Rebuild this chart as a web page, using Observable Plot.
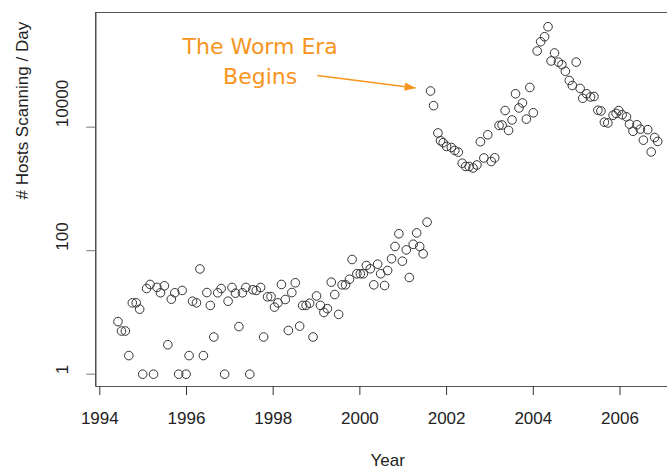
<!DOCTYPE html>
<html>
<head>
<meta charset="utf-8">
<script src="https://cdn.jsdelivr.net/npm/d3@7"></script>
<script src="https://cdn.jsdelivr.net/npm/@observablehq/plot@0.6"></script>
<style>
  html, body { margin: 0; padding: 0; background: #fff; }
  #chart svg { display: block; }
</style>
</head>
<body>
<div id="chart"></div>
<script>
// Monthly observations (decimal year) and hosts scanning per day
const years = [1994.42,1994.50,1994.59,1994.67,1994.75,1994.84,1994.92,1994.99,1995.08,1995.16,
 1995.24,1995.32,1995.40,1995.49,1995.57,1995.65,1995.73,1995.82,1995.90,1995.99,
 1996.06,1996.14,1996.23,1996.31,1996.39,1996.47,1996.55,1996.63,1996.72,1996.80,
 1996.88,1996.96,1997.05,1997.13,1997.21,1997.29,1997.37,1997.46,1997.53,1997.61,
 1997.71,1997.78,1997.87,1997.95,1998.03,1998.11,1998.19,1998.28,1998.35,1998.43,
 1998.51,1998.61,1998.68,1998.76,1998.84,1998.92,1999.00,1999.09,1999.17,1999.25,
 1999.34,1999.42,1999.51,1999.59,1999.67,1999.76,1999.82,1999.93,2000.01,2000.08,
 2000.15,2000.24,2000.32,2000.41,2000.48,2000.57,2000.64,2000.73,2000.81,2000.90,
 2000.98,2001.07,2001.14,2001.23,2001.31,2001.38,2001.46,2001.55,2001.63,2001.70,
 2001.80,2001.86,2001.92,2002.00,2002.11,2002.19,2002.27,2002.36,2002.44,2002.52,
 2002.61,2002.70,2002.78,2002.86,2002.95,2003.03,2003.11,2003.21,2003.28,2003.35,
 2003.43,2003.51,2003.59,2003.67,2003.75,2003.84,2003.92,2004.00,2004.09,2004.17,
 2004.26,2004.34,2004.41,2004.49,2004.58,2004.66,2004.74,2004.83,2004.90,2004.99,
 2005.08,2005.14,2005.23,2005.32,2005.40,2005.49,2005.56,2005.64,2005.72,2005.84,
 2005.91,2005.97,2006.05,2006.15,2006.22,2006.30,2006.39,2006.47,2006.54,2006.64,
 2006.72,2006.80,2006.87];

const hosts = [7.1,5.0,5.0,2.0,14.3,14.3,11.3,1,24.4,28.4,
 1,25.4,20.8,27.0,3.0,16.4,20.8,1,22.7,1,
 2.0,15.2,14.3,50.6,2.0,21.0,13.0,4.0,20.8,24.4,
 1,15.2,25.4,20.5,5.9,20.8,25.4,1,23.3,22.7,
 25.4,4.0,17.9,18.1,12.2,14.3,28.4,16.2,5.1,21.0,
 30.2,6.0,13.0,13.0,14.1,4.0,18.5,13.0,10.0,11.5,
 30.9,19.5,9.3,28.0,28.0,34.5,72,42.3,42.3,42.3,
 57.5,50.9,28.0,60.4,42.3,27.3,47.8,73.9,117,188,
 67.6,103,36.8,127,194,117,89,290,38500,22300,
 8050,6020,5610,4870,4690,4190,3940,2610,2310,2310,
 2180,2440,5800,3170,7530,2780,3190,10660,10860,18600,
 8850,13090,34750,20460,24660,13490,43950,17100,171400,241500,
 291000,422700,118000,159000,113000,102900,80400,57000,47300,113000,
 42400,29400,34700,30800,31400,18800,18300,12050,11700,15600,
 16700,18600,15900,14700,11200,8590,10940,9290,6160,9110,
 3970,6810,5870];

const xTicks = [1994, 1996, 1998, 2000, 2002, 2004, 2006];
const yTicks = [1, 100, 10000];
const xDomain = [1993.908, 2007.096];
const yDomain = [0.632, 719000];

const annotationText = ["The Worm Era\nBegins"];
const annotationPos = [{x: 1997.70, y: 125000}];
const arrowFrom = [1999.02, 68700];
const arrowTo = [2001.286, 43150];

const orange = "#F7941D";
const data = years.map((x, i) => ({x, y: hosts[i]}));
const note = annotationPos.map((p, i) => ({...p, text: annotationText[i]}));
const arrow = [{x1: arrowFrom[0], y1: arrowFrom[1], x2: arrowTo[0], y2: arrowTo[1]}];

const arrowHead = {
  draw(ctx) {
    ctx.moveTo(0, 0);
    ctx.lineTo(-11, -4.2);
    ctx.lineTo(-11, 4.2);
    ctx.closePath();
  }
};

const font = "'Liberation Sans', Arial, Helvetica, sans-serif";

const chart = Plot.plot({
  width: 667,
  height: 476,
  marginLeft: 95.3,
  marginRight: 0,
  marginTop: 12,
  marginBottom: 90,
  style: {fontFamily: font, fontSize: "17px", color: "#222", background: "#fff"},
  x: {domain: xDomain, ticks: xTicks},
  y: {type: "log", domain: yDomain},
  marks: [
    Plot.ruleX([xDomain[0]], {stroke: "#222", strokeWidth: 1.2}),
    Plot.ruleY([yDomain[0]], {stroke: "#555", strokeWidth: 1}),
    Plot.ruleY([yDomain[1]], {stroke: "#555", strokeWidth: 1}),
    Plot.axisX({ticks: xTicks, tickSize: 9, tickPadding: 16, tickFormat: d => String(d), label: null, stroke: "#333", fontSize: 17}),
    Plot.axisY({ticks: yTicks, tickSize: 9, tickFormat: () => "", label: null, stroke: "#777"}),
    Plot.text(yTicks, {y: d => d, frameAnchor: "left", dx: -33, rotate: -90, text: d => String(d), fontSize: 17, fill: "#222"}),
    Plot.text(["Year"], {frameAnchor: "bottom", dx: 6, dy: 79, fontSize: 17, fill: "#222"}),
    Plot.text(["# Hosts Scanning / Day"], {frameAnchor: "left", dx: -73, rotate: -90, fontSize: 17, fill: "#222"}),
    Plot.dot(data, {x: "x", y: "y", r: 4.3, stroke: "#333", strokeWidth: 1, fill: "none"}),
    Plot.text(note, {x: "x", y: "y", text: "text", fill: orange, fontSize: 22, lineHeight: 1.36, textAnchor: "middle", fontFamily: "'DejaVu Sans', Verdana, sans-serif"}),
    Plot.link(arrow, {x1: "x1", y1: "y1", x2: "x2", y2: "y2", stroke: orange, strokeWidth: 1.5}),
    Plot.dot(arrow, {x: "x2", y: "y2", symbol: arrowHead, r: 5, rotate: 7.3, fill: orange, stroke: "none"})
  ]
});

document.getElementById("chart").appendChild(chart);
</script>
</body>
</html>
